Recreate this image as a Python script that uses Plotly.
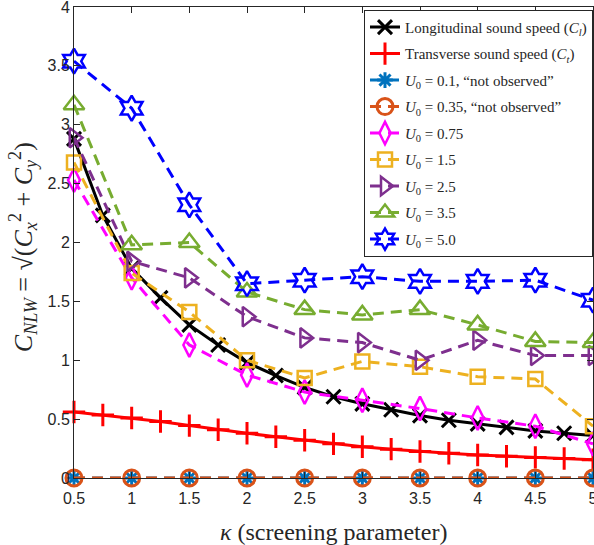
import plotly.graph_objects as go

# ---------------- data ----------------
kappa_fine = [0.5, 0.75, 1.0, 1.25, 1.5, 1.75, 2.0, 2.25, 2.5, 2.75, 3.0, 3.25,
              3.5, 3.75, 4.0, 4.25, 4.5, 4.75, 5.0]
kappa = [0.5, 1.0, 1.5, 2.0, 2.5, 3.0, 3.5, 4.0, 4.5, 5.0]

c_long = [2.88, 2.23, 1.78, 1.53, 1.30, 1.13, 0.98, 0.87, 0.77, 0.69, 0.63, 0.58,
          0.53, 0.49, 0.46, 0.43, 0.40, 0.38, 0.36]
c_trans = [0.56, 0.535, 0.51, 0.48, 0.445, 0.41, 0.38, 0.35, 0.32, 0.29, 0.265, 0.245,
           0.225, 0.21, 0.195, 0.185, 0.175, 0.165, 0.155]

u_010 = [0, 0, 0, 0, 0, 0, 0, 0, 0, 0]
u_035 = [0, 0, 0, 0, 0, 0, 0, 0, 0, 0]
u_075 = [2.53, 1.70, 1.13, 0.875, 0.73, 0.66, 0.59, 0.51, 0.44, 0.29]
u_150 = [2.68, 1.74, 1.41, 1.00, 0.85, 0.99, 0.945, 0.86, 0.84, 0.44]
u_250 = [2.89, 1.84, 1.70, 1.37, 1.19, 1.15, 1.00, 1.17, 1.04, 1.04]
u_350 = [3.17, 1.98, 2.00, 1.58, 1.43, 1.385, 1.43, 1.30, 1.16, 1.15]
u_500 = [3.54, 3.14, 2.32, 1.65, 1.68, 1.71, 1.67, 1.67, 1.68, 1.51]

x_ticks = [0.5, 1, 1.5, 2, 2.5, 3, 3.5, 4, 4.5, 5]
x_ticktext = ["0.5", "1", "1.5", "2", "2.5", "3", "3.5", "4", "4.5", "5"]
y_ticks = [0, 0.5, 1, 1.5, 2, 2.5, 3, 3.5, 4]
y_ticktext = ["0", "0.5", "1", "1.5", "2", "2.5", "3", "3.5", "4"]

names = [
    "Longitudinal sound speed (<i>C<sub>l</sub></i>)",
    "Transverse sound speed (<i>C<sub>t</sub></i>)",
    "<i>U</i><sub>0</sub> = 0.1, \u201cnot observed\u201d",
    "<i>U</i><sub>0</sub> = 0.35, \u201cnot observed\u201d",
    "<i>U</i><sub>0</sub> = 0.75",
    "<i>U</i><sub>0</sub> = 1.5",
    "<i>U</i><sub>0</sub> = 2.5",
    "<i>U</i><sub>0</sub> = 3.5",
    "<i>U</i><sub>0</sub> = 5.0",
]

DASH = "11px,7px"
fig = go.Figure()

def add(x, y, name, color, symbol, size, dash="solid", lw=3, mlw=2.5):
    fig.add_trace(go.Scatter(
        x=x, y=y, name=name, mode="lines+markers", cliponaxis=False,
        legendgroup=name,
        line=dict(color=color, width=lw, dash=dash),
        marker=dict(symbol=symbol, size=size, color=color,
                    line=dict(color=color, width=mlw)),
    ))

add(kappa_fine, c_long, names[0], "#000000", "x-thin-open", 14, lw=3, mlw=3)
add(kappa_fine, c_trans, names[1], "#FF0000", "cross-thin-open", 16, lw=3, mlw=3)
add(kappa, u_010, names[2], "#0072BD", "asterisk-open", 13, dash=DASH, mlw=3)
add(kappa, u_035, names[3], "#D95319", "circle-open", 16, dash=DASH, mlw=3)
add(kappa, u_075, names[4], "#FF00FF", "diamond-tall-open", 17, dash=DASH)
add(kappa, u_150, names[5], "#EDB120", "square-open", 14, dash=DASH)
add(kappa, u_250, names[6], "#7E2F8E", "triangle-right-open", 17, dash=DASH)
add(kappa, u_350, names[7], "#77AC30", "triangle-up-open", 18, dash=DASH)
add(kappa, u_500, names[8], "#0000FF", "hexagram-open", 19, dash=DASH)

axis_common = dict(
    showline=True, mirror="ticks", linecolor="#262626", linewidth=1,
    ticks="inside", ticklen=6, tickcolor="#262626", showgrid=False,
    zeroline=False, automargin=False, ticklabeloverflow="allow",
    tickfont=dict(family="Liberation Sans, Arial, sans-serif", size=16, color="#262626"),
)

fig.update_layout(
    width=594, height=545,
    margin=dict(l=74, r=1, t=7, b=67, autoexpand=False),
    paper_bgcolor="white", plot_bgcolor="white",
    xaxis=dict(range=[0.5, 5], tickvals=x_ticks, ticktext=x_ticktext,
               ticklabelstandoff=6, **axis_common),
    yaxis=dict(range=[0, 4], tickvals=y_ticks, ticktext=y_ticktext,
               **axis_common),
    showlegend=True,
    legend=dict(
        x=1, xanchor="right", y=0.994, yanchor="top",
        bgcolor="white", bordercolor="#262626", borderwidth=1,
        font=dict(family="Liberation Serif, Times New Roman, serif", size=15, color="#262626"),
        itemwidth=30, tracegroupgap=4,
    ),
    annotations=[
        dict(text="<i>\u03ba</i> (screening parameter)", xref="paper", yref="paper",
             x=0.5, y=0, yshift=-54, showarrow=False, xanchor="center", yanchor="middle",
             font=dict(family="Liberation Serif, Times New Roman, serif", size=24, color="#262626")),
        dict(text="<i>C</i><sub><i>NLW</i></sub> = \u221a(<i>C</i><sub><i>x</i></sub><sup>2</sup> + <i>C</i><sub><i>y</i></sub><sup>2</sup>)",
             xref="paper", yref="paper", x=0, xshift=-51, y=0.49, textangle=-90,
             showarrow=False, xanchor="center", yanchor="middle",
             font=dict(family="Liberation Serif, Times New Roman, serif", size=26, color="#262626")),
    ],
)

fig.write_html("out.html", config={"displayModeBar": False},
               post_script="document.body.style.margin='0';document.body.style.overflow='hidden';")
